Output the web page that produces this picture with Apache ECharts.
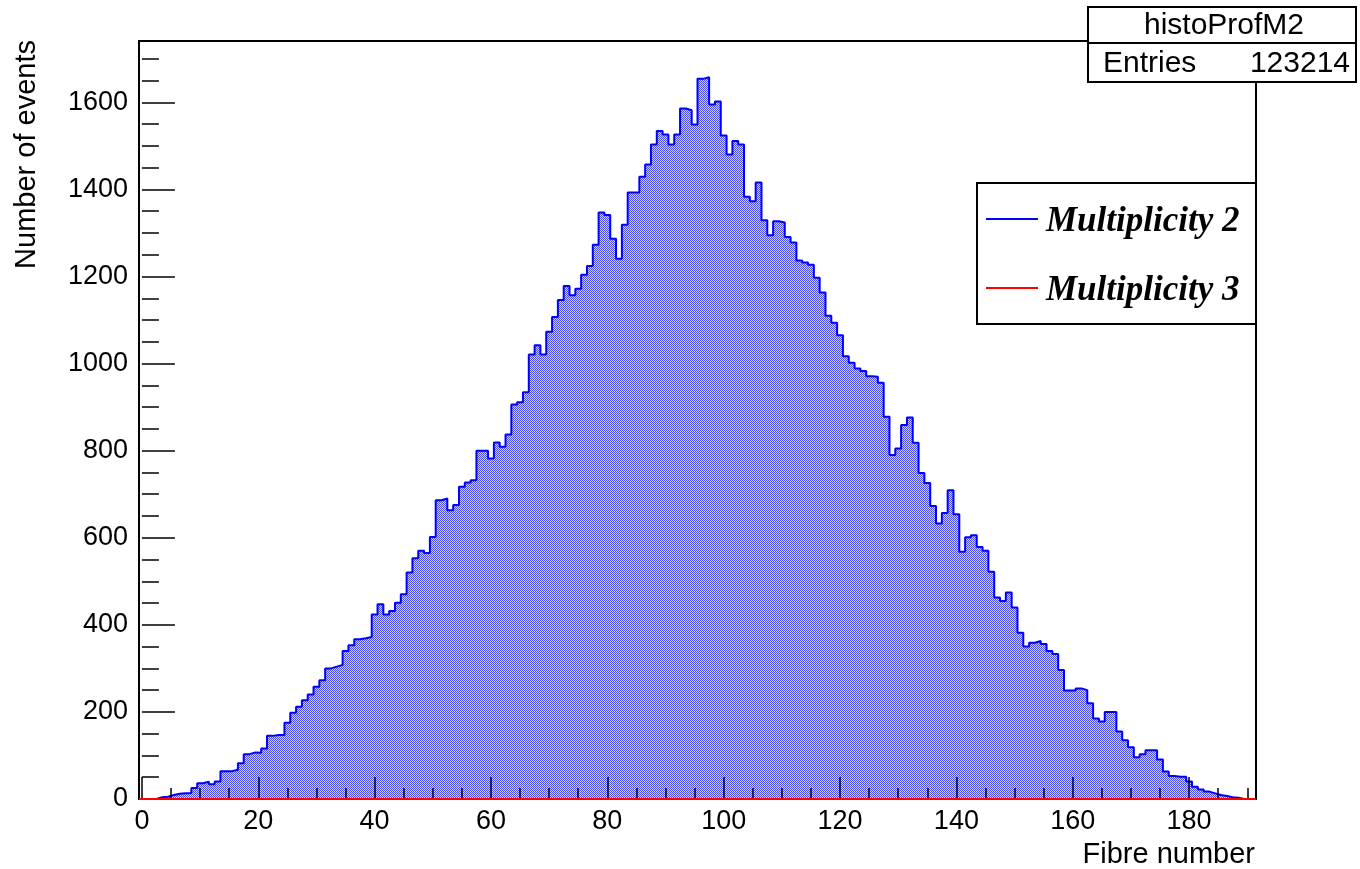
<!DOCTYPE html>
<html>
<head>
<meta charset="utf-8">
<title>histoProfM2</title>
<script src="https://cdn.jsdelivr.net/npm/echarts@6/dist/echarts.min.js"></script>
<style>
  html, body { margin: 0; padding: 0; background: #ffffff; }
  #chart { width: 1360px; height: 869px; }
</style>
</head>
<body>
<div id="chart"></div>
<script>
// Events per fibre, one bin per fibre number 0..191
const COUNTS_M2 = [
  0, 0, 0, 4, 5, 9, 12, 13, 14, 25,
  36, 40, 34, 40, 64, 64, 67, 82, 103, 107,
  106, 116, 145, 147, 147, 175, 198, 212, 227, 240,
  258, 273, 300, 304, 308, 340, 353, 367, 369, 372,
  424, 447, 424, 432, 451, 470, 520, 553, 570, 565,
  602, 686, 690, 663, 675, 717, 727, 732, 800, 800,
  782, 819, 809, 837, 906, 911, 934, 1021, 1042, 1021,
  1073, 1107, 1146, 1178, 1157, 1172, 1204, 1224, 1273, 1347,
  1341, 1287, 1241, 1319, 1393, 1393, 1429, 1457, 1503, 1534,
  1526, 1503, 1526, 1586, 1582, 1549, 1654, 1658, 1595, 1602,
  1524, 1480, 1511, 1503, 1383, 1373, 1416, 1329, 1295, 1327,
  1324, 1291, 1278, 1237, 1232, 1227, 1197, 1163, 1110, 1094,
  1065, 1017, 1002, 989, 983, 971, 970, 956, 878, 790,
  805, 859, 876, 818, 749, 726, 673, 633, 657, 709,
  654, 568, 601, 606, 579, 570, 522, 463, 455, 474,
  440, 382, 350, 359, 363, 356, 340, 333, 296, 249,
  249, 254, 250, 220, 185, 178, 200, 200, 155, 135,
  119, 96, 103, 112, 112, 91, 63, 53, 51, 51,
  40, 28, 22, 17, 13, 9, 7, 4, 3, 0, 0, 0
];

// Multiplicity 3 stays empty in every fibre
const COUNTS_M3 = [
  0, 0, 0, 0, 0, 0, 0, 0, 0, 0, 0, 0, 0, 0, 0, 0, 0, 0, 0, 0, 0, 0, 0, 0,
  0, 0, 0, 0, 0, 0, 0, 0, 0, 0, 0, 0, 0, 0, 0, 0, 0, 0, 0, 0, 0, 0, 0, 0,
  0, 0, 0, 0, 0, 0, 0, 0, 0, 0, 0, 0, 0, 0, 0, 0, 0, 0, 0, 0, 0, 0, 0, 0,
  0, 0, 0, 0, 0, 0, 0, 0, 0, 0, 0, 0, 0, 0, 0, 0, 0, 0, 0, 0, 0, 0, 0, 0,
  0, 0, 0, 0, 0, 0, 0, 0, 0, 0, 0, 0, 0, 0, 0, 0, 0, 0, 0, 0, 0, 0, 0, 0,
  0, 0, 0, 0, 0, 0, 0, 0, 0, 0, 0, 0, 0, 0, 0, 0, 0, 0, 0, 0, 0, 0, 0, 0,
  0, 0, 0, 0, 0, 0, 0, 0, 0, 0, 0, 0, 0, 0, 0, 0, 0, 0, 0, 0, 0, 0, 0, 0,
  0, 0, 0, 0, 0, 0, 0, 0, 0, 0, 0, 0, 0, 0, 0, 0, 0, 0, 0, 0, 0, 0, 0, 0
];

const SERIES_NAMES = ['Multiplicity 2', 'Multiplicity 3'];
const HIST_NAME = 'histoProfM2';
const ENTRIES = 123214;
const X_TITLE = 'Fibre number';
const Y_TITLE = 'Number of events';

const X_MAJOR = [0, 20, 40, 60, 80, 100, 120, 140, 160, 180];
const X_MINOR = [5, 10, 15, 25, 30, 35, 45, 50, 55, 65, 70, 75, 85, 90, 95,
  105, 110, 115, 125, 130, 135, 145, 150, 155, 165, 170, 175, 185, 190];
const Y_MAJOR = [0, 200, 400, 600, 800, 1000, 1200, 1400, 1600];
const Y_MINOR = [50, 100, 150, 250, 300, 350, 450, 500, 550, 650, 700, 750,
  850, 900, 950, 1050, 1100, 1150, 1250, 1300, 1350, 1450, 1500, 1550, 1650, 1700];

// Bin edges run from -0.5 to 191.5; the frame top sits 5% above the tallest bin
const X_MIN = -0.5;
const X_MAX = COUNTS_M2.length - 0.5;
const Y_MAX = Math.max.apply(null, COUNTS_M2) * 1.05;

// Histogram outline as step points placed on the lower edge of every bin
function stepPoints(counts) {
  const pts = counts.map((v, i) => [i - 0.5, v]);
  pts.push([counts.length - 0.5, counts[counts.length - 1]]);
  return pts;
}

// Checkered blue hatch used to fill the histogram
function checkerPattern() {
  const c = document.createElement('canvas');
  c.width = 2; c.height = 2;
  const g = c.getContext('2d');
  g.fillStyle = '#d4d4ff';
  g.fillRect(0, 0, 2, 2);
  g.fillStyle = '#4a4aff';
  g.fillRect(0, 0, 1, 1);
  g.fillRect(1, 1, 1, 1);
  return c;
}

// Plain integers on the axes, no digit grouping
function plain(v) { return String(Math.round(v)); }

const SANS = 'Liberation Sans, Arial, Helvetica, sans-serif';
const SERIF = 'Liberation Serif, Times New Roman, serif';

const chart = echarts.init(document.getElementById('chart'), null, { renderer: 'canvas' });

const hiddenAxisParts = {
  axisLine: { show: false },
  axisLabel: { show: false },
  splitLine: { show: false }
};

chart.setOption({
  animation: false,
  backgroundColor: '#ffffff',
  grid: {
    left: 139, top: 41, width: 1117, height: 758,
    show: true, borderColor: '#000000', borderWidth: 2,
    backgroundColor: 'transparent'
  },
  xAxis: [
    {
      type: 'value', min: X_MIN, max: X_MAX, position: 'bottom', z: 5,
      axisLine: { show: false },
      splitLine: { show: false },
      axisTick: {
        show: true, inside: true, length: 22, customValues: X_MAJOR,
        lineStyle: { color: '#000000', width: 1.5 }
      },
      axisLabel: {
        show: true, customValues: X_MAJOR, margin: 9, formatter: plain,
        color: '#000000', fontFamily: SANS, fontSize: 27
      }
    },
    Object.assign({
      type: 'value', min: X_MIN, max: X_MAX, position: 'bottom', z: 5,
      axisTick: {
        show: true, inside: true, length: 11, customValues: X_MINOR,
        lineStyle: { color: '#000000', width: 1.5 }
      }
    }, hiddenAxisParts)
  ],
  yAxis: [
    {
      type: 'value', min: 0, max: Y_MAX, position: 'left', z: 5,
      axisLine: { show: false },
      splitLine: { show: false },
      axisTick: {
        show: true, inside: true, length: 33, customValues: Y_MAJOR,
        lineStyle: { color: '#000000', width: 1.5 }
      },
      axisLabel: {
        show: true, customValues: Y_MAJOR, margin: 11, formatter: plain,
        color: '#000000', fontFamily: SANS, fontSize: 27
      }
    },
    Object.assign({
      type: 'value', min: 0, max: Y_MAX, position: 'left', z: 5,
      axisTick: {
        show: true, inside: true, length: 17, customValues: Y_MINOR,
        lineStyle: { color: '#000000', width: 1.5 }
      }
    }, hiddenAxisParts)
  ],
  series: [
    {
      name: SERIES_NAMES[0],
      type: 'line',
      step: 'end',
      xAxisIndex: 0, yAxisIndex: 0,
      data: stepPoints(COUNTS_M2),
      symbol: 'none',
      z: 3,
      lineStyle: { color: '#0000ff', width: 2 },
      areaStyle: { color: { image: checkerPattern(), repeat: 'repeat' }, opacity: 1 }
    },
    {
      name: SERIES_NAMES[1],
      type: 'line',
      step: 'end',
      xAxisIndex: 0, yAxisIndex: 0,
      data: stepPoints(COUNTS_M3),
      symbol: 'none',
      z: 8,
      lineStyle: { color: '#ff0000', width: 2 }
    }
  ],
  graphic: [
    // axis titles
    {
      type: 'text', x: 27, y: 40, rotation: Math.PI / 2,
      style: { text: Y_TITLE, fill: '#000000', font: '29px ' + SANS, align: 'right', verticalAlign: 'middle' }
    },
    {
      type: 'text', x: 1255, y: 855,
      style: { text: X_TITLE, fill: '#000000', font: '29px ' + SANS, align: 'right', verticalAlign: 'middle' }
    },
    // statistics box
    {
      type: 'group', z: 20,
      children: [
        { type: 'rect', shape: { x: 1088, y: 7, width: 268, height: 75 },
          style: { fill: '#ffffff', stroke: '#000000', lineWidth: 2 } },
        { type: 'line', shape: { x1: 1088, y1: 43, x2: 1356, y2: 43 },
          style: { stroke: '#000000', lineWidth: 2 } },
        { type: 'text', x: 1224, y: 26,
          style: { text: HIST_NAME, fill: '#000000', font: '30px ' + SANS, align: 'center', verticalAlign: 'middle' } },
        { type: 'text', x: 1103, y: 64,
          style: { text: 'Entries', fill: '#000000', font: '30px ' + SANS, align: 'left', verticalAlign: 'middle' } },
        { type: 'text', x: 1350, y: 64,
          style: { text: String(ENTRIES), fill: '#000000', font: '30px ' + SANS, align: 'right', verticalAlign: 'middle' } }
      ]
    },
    // legend
    {
      type: 'group', z: 20,
      children: [
        { type: 'rect', shape: { x: 977, y: 183, width: 279, height: 141 },
          style: { fill: '#ffffff', stroke: '#000000', lineWidth: 2 } },
        { type: 'line', shape: { x1: 986, y1: 219, x2: 1038, y2: 219 },
          style: { stroke: '#0000ff', lineWidth: 2 } },
        { type: 'text', x: 1046, y: 222,
          style: { text: SERIES_NAMES[0], fill: '#000000', font: 'italic bold 35px ' + SERIF, align: 'left', verticalAlign: 'middle' } },
        { type: 'line', shape: { x1: 986, y1: 288, x2: 1038, y2: 288 },
          style: { stroke: '#ff0000', lineWidth: 2 } },
        { type: 'text', x: 1046, y: 291,
          style: { text: SERIES_NAMES[1], fill: '#000000', font: 'italic bold 35px ' + SERIF, align: 'left', verticalAlign: 'middle' } }
      ]
    }
  ]
});
</script>
</body>
</html>
